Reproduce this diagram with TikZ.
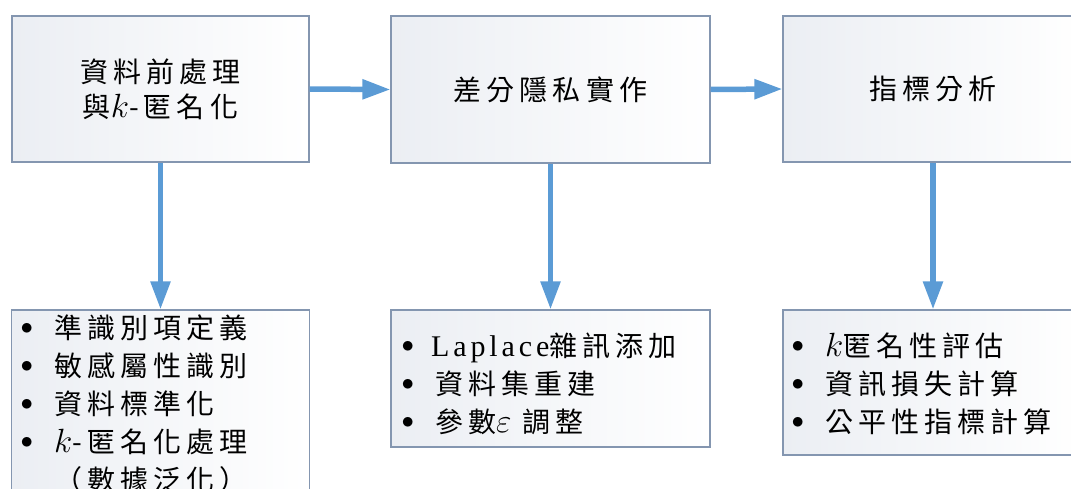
\documentclass[tikz,border=0pt]{standalone}
\usepackage{fontspec}
\setmainfont{Noto Sans CJK TC}[LetterSpace=18]
\newfontfamily\latserif{Liberation Serif}[LetterSpace=13]
\usetikzlibrary{arrows.meta}
\definecolor{arrowblue}{HTML}{5B9BD5}
\definecolor{boxline}{HTML}{8496B0}
\definecolor{boxshade}{HTML}{EBEEF3}
\newcommand\lbul{\raisebox{4pt}{$\bullet$}}
\newcommand\mk{\scalebox{1.35}{$k$}}
\newcommand\meps{\scalebox{1.35}{$\varepsilon$}}
\begin{document}
\begin{tikzpicture}[x=1pt,y=-1pt,
  box/.style={draw=boxline, line width=1.2pt, left color=boxshade, right color=white, inner sep=0pt},
  flow/.style={draw=arrowblue, line width=5.5pt, -{Triangle[length=28pt,width=19pt]}},
  title/.style={font=\fontsize{28}{35}\selectfont, align=center},
  list/.style={font=\fontsize{28}{38}\selectfont, anchor=base west, inner sep=0pt}]
\useasboundingbox (0,0) rectangle (1071,489);
\clip (0,0) rectangle (1071,489);
% top boxes
\node[box, title, minimum width=297pt, minimum height=146pt] (b1) at (160.5,89) {資料前處理\\與\mk-匿名化};
\node[box, title, minimum width=319pt, minimum height=147pt] (b2) at (550.5,89.5) {差分隱私實作};
\node[box, title, minimum width=300pt, minimum height=146pt] (b3) at (933,89) {指標分析};
% bottom boxes
\node[box, minimum width=298pt, minimum height=200pt] (l1) at (160.5,410) {};
\node[box, minimum width=319pt, minimum height=137pt] (l2) at (550.5,378.5) {};
\node[box, minimum width=300pt, minimum height=145pt] (l3) at (933,382.5) {};
% lists
\node[list] (t1) at (20.5,338) {\begin{tabular}[t]{@{}l@{\hspace{21pt}}l@{}}
\lbul & 準識別項定義\\
\lbul & 敏感屬性識別\\
\lbul & 資料標準化\\
\lbul & \mk-匿名化處理\\
 & （數據泛化）
\end{tabular}};
\node[list] (t2) at (401.5,356) {\begin{tabular}[t]{@{}l@{\hspace{21pt}}l@{}}
\lbul & \hspace{-4pt}{\fontsize{30}{38}\selectfont\latserif Laplace}雜訊添加\\
\lbul & 資料集重建\\
\lbul & 參數\meps\ 調整
\end{tabular}};
\node[list] (t3) at (791.5,356) {\begin{tabular}[t]{@{}l@{\hspace{21pt}}l@{}}
\lbul & \mk 匿名性評估\\
\lbul & 資訊損失計算\\
\lbul & 公平性指標計算
\end{tabular}};
% connectors
\draw[flow] (b1.east) -- (b2.west);
\draw[flow] (b2.east) -- (b3.west);
\draw[flow] (b1.south) -- (l1.north);
\draw[flow] (b2.south) -- (l2.north);
\draw[flow] (b3.south) -- (l3.north);
\end{tikzpicture}
\end{document}
